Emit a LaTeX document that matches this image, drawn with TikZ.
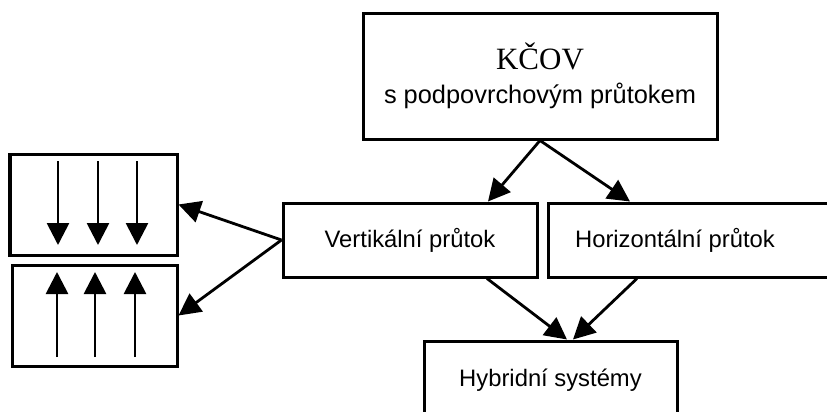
\documentclass[tikz,border=0pt]{standalone}
\usepackage{fontspec}
\setmainfont{Liberation Sans}
\newfontfamily\kcovfont{Liberation Serif}
\usetikzlibrary{arrows.meta}

\begin{document}
\begin{tikzpicture}[x=0.5pt, y=-0.5pt,
block/.style={rectangle, text centered, draw=black, line width=1.5pt,
font=\fontsize{11.9}{14}\selectfont, minimum height=37pt},
block-main/.style={block, align=center, minimum width=177pt, minimum height=63pt},
block-flow/.style={block, minimum width=83pt, minimum height=50.5pt},
line/.style={draw, line width=1.4pt, -{Triangle[length=11pt, width=11pt]}}
]
\clip (0,0) rectangle (827,412);

\node [block-main] (kcov) at (540,76)
  {{\kcovfont\fontsize{15.5}{16}\selectfont KČOV}\\[3pt]
   {\fontsize{12.7}{15}\selectfont s podpovrchovým průtokem}};
\node [block, minimum width=127pt] (vert) at (410,240) {Vertikální průtok};
\node [block, minimum width=143.5pt] (horiz) at (691.5,240) {Horizontální průtok\hspace*{16.5pt}};
\node [block, minimum width=126.5pt, minimum height=39pt] (hyb) at (550.5,380) {Hybridní systémy};

\node [block-flow, minimum width=83.5pt] (up) at (93.5,204.5) {};
\node [block-flow, minimum width=82.5pt] (down) at (94.5,315.5) {};

% flow direction inside the boxes
\foreach \x in {58,98,137}
  \path [line] (\x,161) -- (\x,245);
\foreach \x in {57,95,135}
  \path [line] (\x,357) -- (\x,272);

\path [line] (kcov.south) -- ([xshift=39pt]vert.north);
\path [line] (kcov.south) -- ([xshift=-30.75pt]horiz.north);
\path [line] ([xshift=38.5pt]vert.south) -- ([xshift=8.25pt]hyb.north);
\path [line] ([xshift=-27.25pt]horiz.south) -- ([xshift=11.25pt]hyb.north);
\path [line] (vert.west) -- (up.east);
\path [line] (vert.west) -- (down.east);

\end{tikzpicture}
\end{document}
